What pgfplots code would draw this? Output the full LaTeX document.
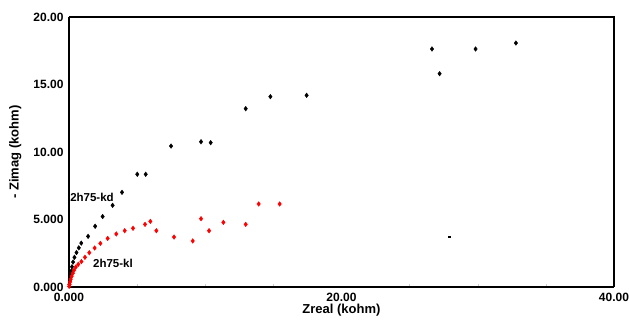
\documentclass[border=0pt]{standalone}
\usepackage{fontspec}
\setmainfont{Liberation Sans}
\usepackage{pgfplots}
\pgfplotsset{compat=1.18}
\begin{document}
\begin{tikzpicture}
\begin{axis}[
  scale only axis,
  width=545pt, height=270pt,
  xmin=0, xmax=40, ymin=0, ymax=20,
  xtick={0,20,40}, xticklabels={0.000,20.00,40.00},
  ytick={0,5,10,15,20}, yticklabels={0.000,5.000,10.00,15.00,20.00},
  minor x tick num=3,
  major tick length=0pt,
  minor tick length=3pt,
  every minor tick/.style={gray!40, thin},
  axis x line*=bottom, axis y line*=left,
  axis line style={line width=1.3pt, black},
  tick align=inside,
  /pgf/number format/assume math mode=true,
  ticklabel style={font=\bfseries\fontsize{12}{14}\selectfont},
  label style={font=\bfseries\fontsize{13}{15}\selectfont},
  xlabel={Zreal (kohm)},
  ylabel={- Zimag (kohm)},
  xlabel style={at={(axis description cs:0.5,0)}, anchor=north, yshift=-14pt},
  ylabel style={at={(axis description cs:0,0.5)}, anchor=south, xshift=0pt, yshift=44pt},
  yticklabel style={xshift=-2pt},
  xticklabel style={yshift=-3pt},
  clip=false,
]
\draw[line width=1.3pt] (axis cs:0,20) -- (axis cs:40,20) -- (axis cs:40,0);
\addplot[only marks, mark=diamond*, mark size=2.3pt, black] coordinates {
(0.03,0.2)(0.06,0.45)(0.1,0.7)(0.14,0.95)(0.18,1.2)(0.22,1.5)(0.3,1.85)(0.4,2.2)
(0.55,2.55)(0.72,2.9)(0.9,3.25)(1.4,3.75)(1.92,4.5)(2.47,5.22)(3.2,6.05)(3.89,7.01)
(5.01,8.35)(5.63,8.35)(7.49,10.44)(9.69,10.76)(10.4,10.69)(12.97,13.21)
(14.78,14.1)(17.44,14.2)(26.64,17.63)(27.2,15.8)(29.84,17.63)(32.8,18.07)
};
\addplot[only marks, mark=diamond*, mark size=2.3pt, red] coordinates {
(0.01,0.05)(0.04,0.2)(0.08,0.38)(0.13,0.58)(0.2,0.8)(0.28,1.02)(0.38,1.25)
(0.5,1.48)(0.68,1.68)(0.91,1.88)(1.17,2.2)(1.49,2.54)(1.88,2.89)(2.3,3.23)
(2.84,3.6)(3.47,3.93)(4.09,4.17)(4.7,4.35)(5.58,4.64)(5.97,4.86)(6.41,4.17)
(7.71,3.7)(9.08,3.41)(9.69,5.06)(10.28,4.17)(11.33,4.79)(12.97,4.64)
(13.92,6.15)(15.46,6.15)
};
\addplot[only marks, mark=square*, mark size=0.6pt, black] coordinates {(27.9,3.7)};
\node[anchor=west, font=\bfseries\fontsize{11.5}{13}\selectfont, inner sep=0pt] at (axis cs:0.08,6.67) {2h75-kd};
\node[anchor=west, font=\bfseries\fontsize{11.5}{13}\selectfont, inner sep=0pt] at (axis cs:1.76,1.78) {2h75-kl};
\end{axis}
\pgfresetboundingbox
\path (-69pt,-34pt) rectangle (560pt,287pt);
\end{tikzpicture}
\end{document}
